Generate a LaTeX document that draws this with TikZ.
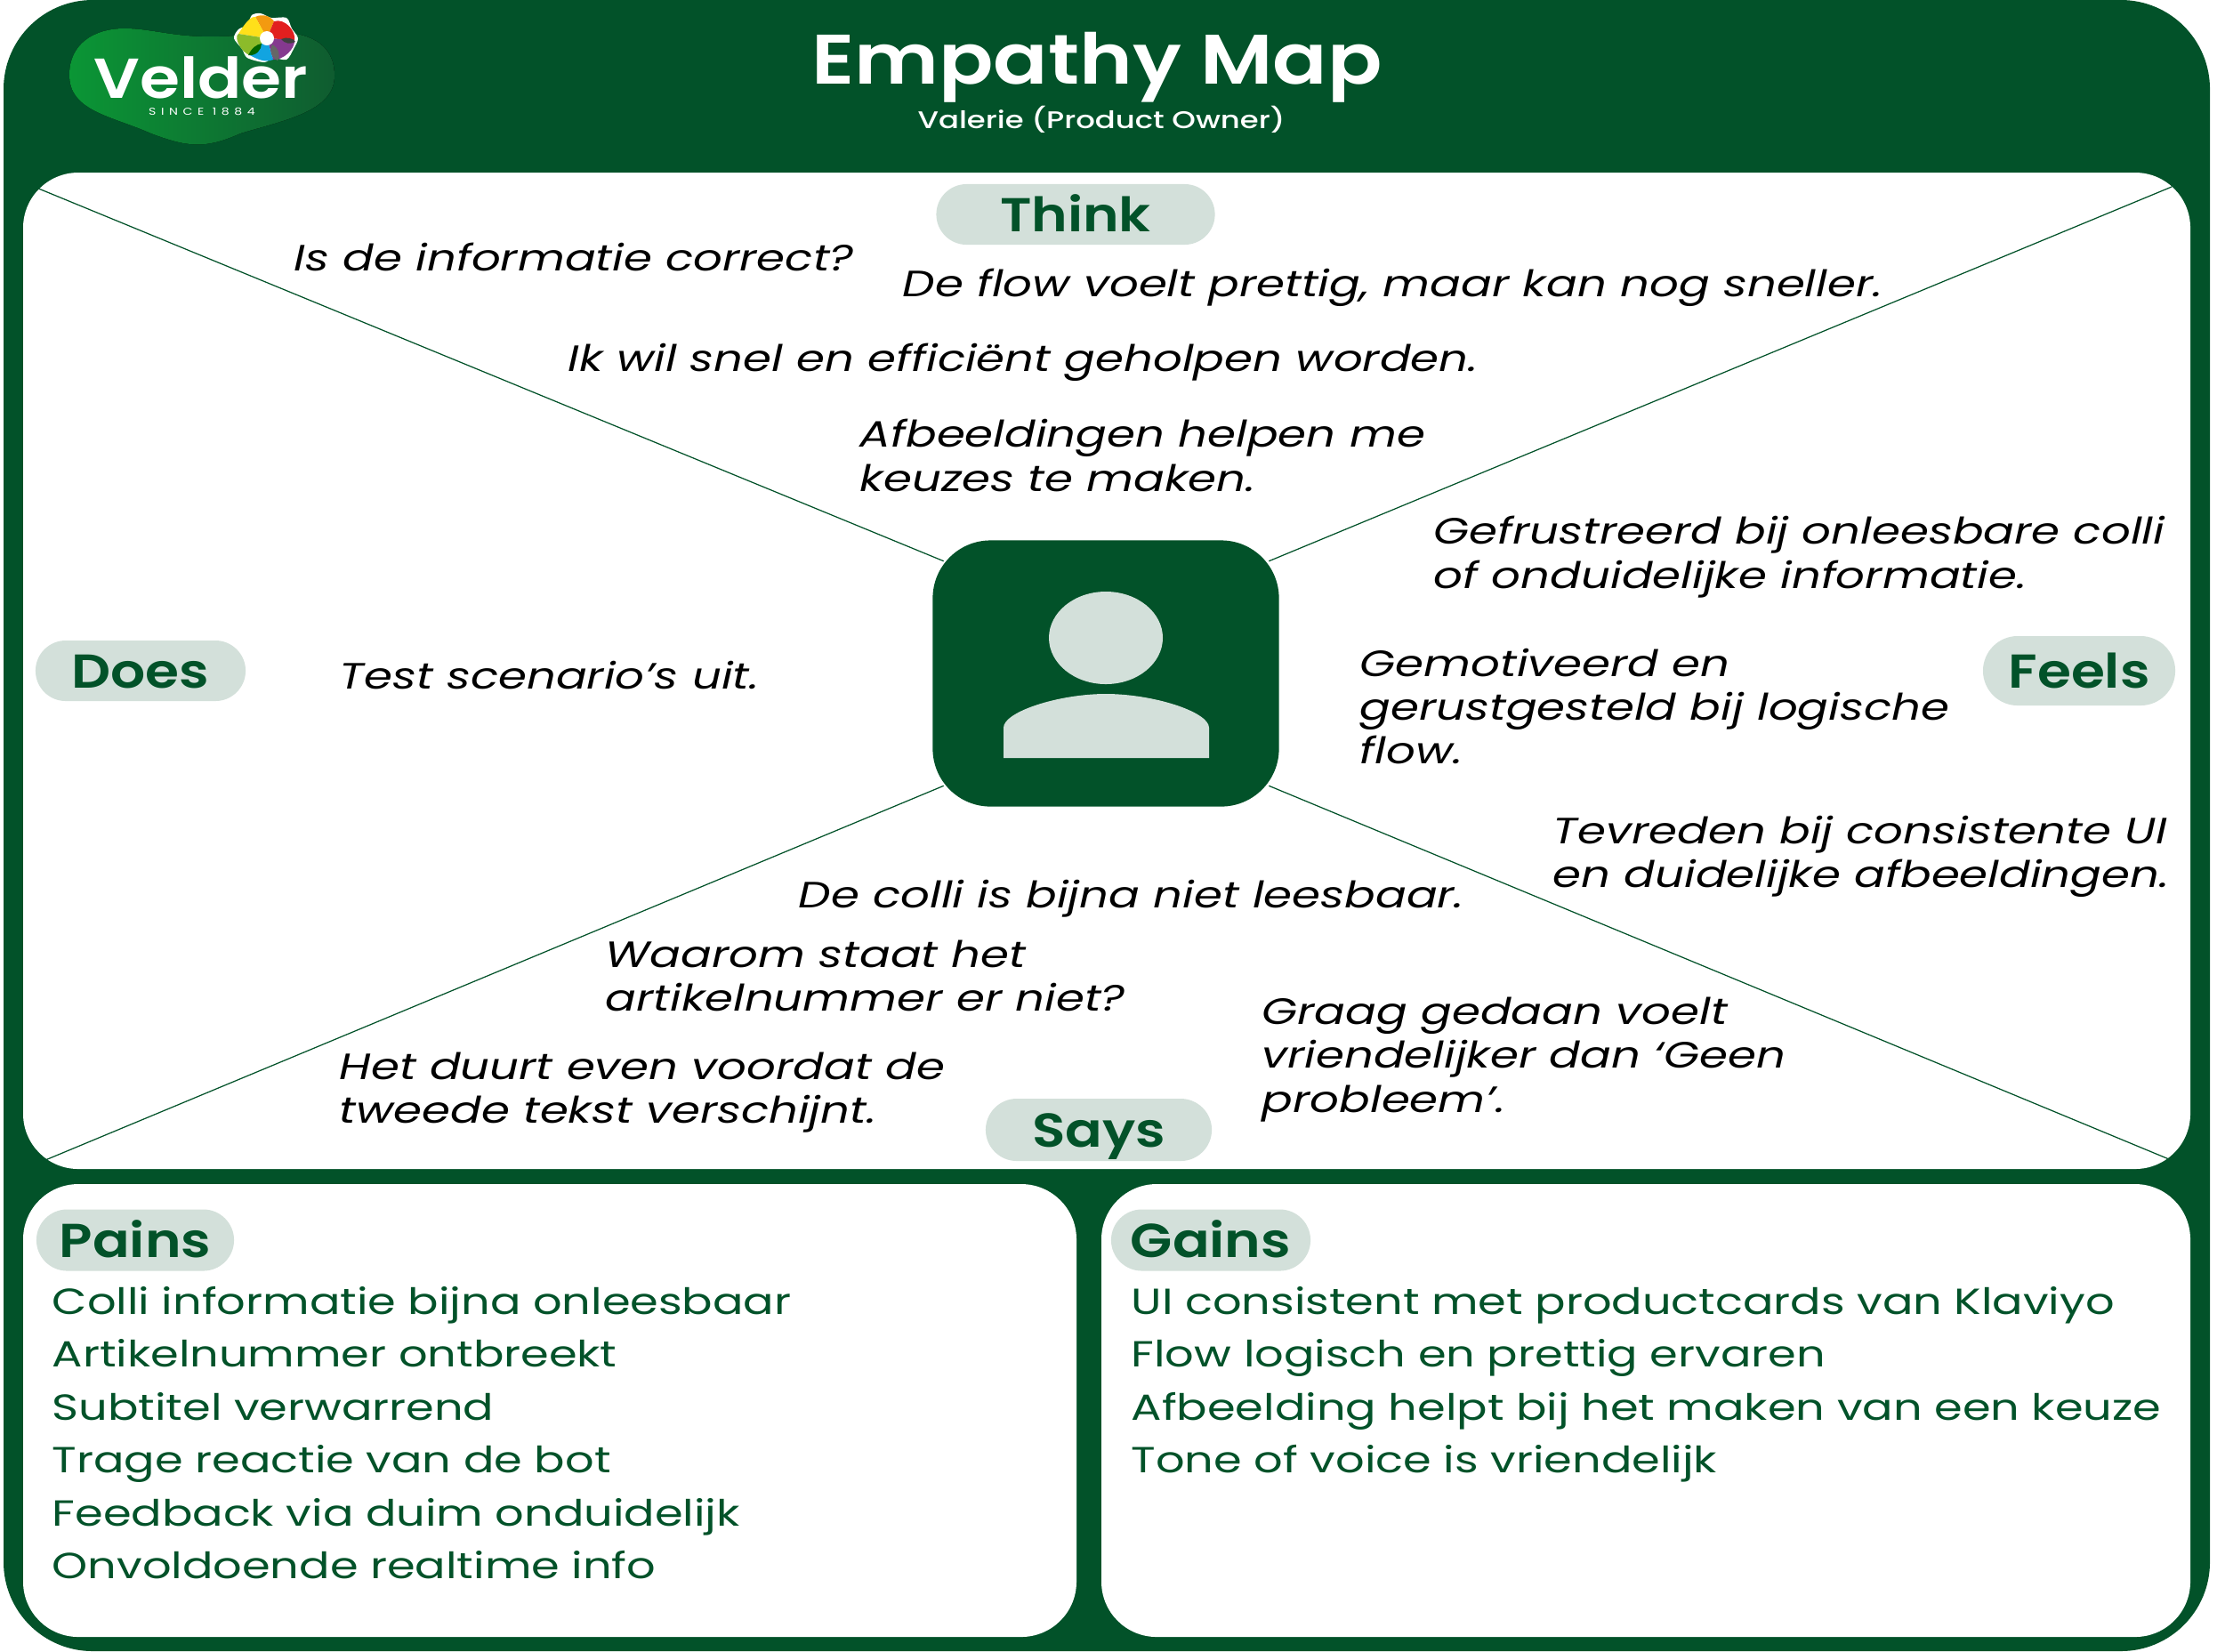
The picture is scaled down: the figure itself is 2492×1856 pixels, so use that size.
\documentclass[tikz,border=0pt]{standalone}
\usepackage{fontspec}
\setmainfont[FakeStretch=1.25]{Poppins}
\newfontfamily\headfont[FakeStretch=1.15]{Poppins SemiBold}
\newfontfamily\subfont[FakeStretch=1.25]{Poppins Medium}
\usepackage{xcolor}
\usetikzlibrary{calc,positioning,shapes.misc}
\definecolor{mainc}{HTML}{025229}
\definecolor{softc}{HTML}{D3E0DA}
\definecolor{blobl}{HTML}{0B9635}
\definecolor{blobr}{HTML}{0F5C30}
\definecolor{pOrange}{HTML}{F39A10}
\definecolor{pYellow}{HTML}{FFE01A}
\definecolor{pRed}{HTML}{E21F1F}
\definecolor{pPurple}{HTML}{85398F}
\definecolor{pBlue}{HTML}{12A4E0}
\definecolor{pGreen}{HTML}{8CBB2A}
\tikzset{
  panel/.style={fill=white,rounded corners=0.62cm},
  pill/.style={rounded rectangle,fill=softc,text=mainc,inner sep=0pt,text height=11pt,text depth=0pt,font=\fontsize{15.2}{18}\headfont},
  saytxt/.style={anchor=west,align=left,inner sep=0pt,text=black,font=\fontsize{11.7}{14}\selectfont\itshape},
  listtxt/.style={anchor=base west,inner sep=0pt,text=mainc,font=\fontsize{11.6}{14}\selectfont},
  spoke/.style={mainc,line width=0.35pt}
}
\begin{document}
\begin{tikzpicture}[x=0.01cm,y=-0.01cm]
\useasboundingbox (0,0) rectangle (2492,1856);
\fill[mainc,rounded corners=1cm] (4,0) rectangle (2484,1856);
\fill[panel] (26,194) rectangle (2462,1314);
\fill[panel] (26,1331) rectangle (1210,1840);
\fill[panel] (1238,1331) rectangle (2462,1840);
% logo
\fill[left color=blobl,right color=blobr] (78,84) .. controls (78,50) and (105,32) .. (140,32)
  .. controls (175,32) and (200,45) .. (265,40) .. controls (320,30) and (376,35) .. (376,85)
  .. controls (376,125) and (320,135) .. (270,150) .. controls (230,168) and (210,165) .. (170,150)
  .. controls (125,130) and (78,125) .. (78,84) -- cycle;
\node[anchor=base,inner sep=0pt,text=white,font=\fontsize{18}{20}\headfont] (brand) at (226,110) {Velder};
\node[inner sep=0pt,text=white,font=\fontsize{3.2}{4}\selectfont\addfontfeature{LetterSpace=50}] (since) at (227,125) {SINCE 1884};
\fill[white] plot[smooth cycle] coordinates {(283,17)(293,15)(305,20)(322,20)(328,32)(335,43)(330,55)(322,67)(307,65)(297,70)(278,65)(272,55)(263,43)(268,33)(278,28)};
\fill[pOrange] (300,43) -- (287,19) .. controls (295,15) and (304,18) .. (308,24) -- cycle;
\fill[pYellow] (300,43) -- (268,38) .. controls (272,32) and (280,18) .. (287,19) -- cycle;
\fill[pRed] (300,43) -- (308,24) .. controls (320,20) and (333,35) .. (331,45) -- cycle;
\fill[pPurple] (300,43) -- (331,45) .. controls (332,55) and (318,68) .. (307,67) -- cycle;
\fill[pBlue] (300,43) -- (307,67) .. controls (298,71) and (288,66) .. (281,62) -- cycle;
\fill[pGreen] (300,43) -- (281,62) .. controls (272,60) and (262,42) .. (268,38) -- cycle;
\fill[black!75] (316,44) .. controls (322,41) and (330,43) .. (332,47) .. controls (326,50) and (320,49) .. (316,44) -- cycle;
\fill[black!60] (306,50) .. controls (302,58) and (306,66) .. (312,68) .. controls (316,62) and (313,54) .. (306,50) -- cycle;
\fill[green!40!black] (279,62) .. controls (283,54) and (288,50) .. (294,49) .. controls (294,56) and (288,63) .. (279,62) -- cycle;
\fill[white] (300,43) circle (8);
% title
\node[inner sep=0pt,text=white,font=\fontsize{22.4}{26}\headfont] (title) at (1233,76) {Empathy Map};
\node[inner sep=0pt,text=white,font=\fontsize{7.7}{10}\subfont] (subtitle) at (1238,134) {Valerie (Product Owner)};
% persona
\node[fill=mainc,rounded corners=0.65cm,minimum width=3.89cm,minimum height=2.99cm,inner sep=0pt] (persona) at (1243,757) {};
\fill[softc] (1243,717) ellipse (64 and 52);
\fill[softc] (1128,852) -- (1128,818) .. controls (1128,800) and (1190,780) .. (1243,780)
  .. controls (1296,780) and (1359,800) .. (1359,818) -- (1359,852) -- cycle;
% spokes
\coordinate (cTL) at (41,211); \coordinate (cTR) at (2441,210);
\coordinate (cBL) at (51,1304); \coordinate (cBR) at (2438,1303);
\draw[spoke] (cTL)--($(persona.north west)+(13,24)$);
\draw[spoke] (cTR)--($(persona.north east)+(-12,24)$);
\draw[spoke] (cBL)--($(persona.south west)+(13,-24)$);
\draw[spoke] (cBR)--($(persona.south east)+(-12,-24)$);
% labels
\node[pill,minimum width=3.13cm,minimum height=0.68cm] (think) at (1209,241) {Think};
\node[pill,minimum width=2.36cm,minimum height=0.68cm] (does) at (158,754) {Does\hspace{6pt}};
\node[pill,minimum width=2.16cm,minimum height=0.78cm] (feels) at (2337,754) {Feels};
\node[pill,minimum width=2.54cm,minimum height=0.70cm] (says) at (1235,1270) {Says};
\node[pill,minimum width=2.22cm,minimum height=0.69cm] (pains) at (152,1394) {Pains};
\node[pill,minimum width=2.24cm,minimum height=0.69cm] (gains) at (1361,1394) {Gains};
% think
\node[saytxt] (t1) at (330,289) {Is de informatie correct?};
\node[saytxt] (t2) at (1014,323) {De flow voelt prettig, maar kan nog sneller.};
\node[saytxt] (t3) at (638,407) {Ik wil snel en efficiënt geholpen worden.};
\node[saytxt] (t4) at (966,512) {Afbeeldingen helpen me\\keuzes te maken.};
% feels
\node[saytxt] (f1) at (1611,626) {Gefrustreerd bij onleesbare colli\\of onduidelijke informatie.};
\node[saytxt] (f2) at (1528,794) {Gemotiveerd en\\gerustgesteld bij logische\\flow.};
\node[saytxt] (f3) at (1745,963) {Tevreden bij consistente UI\\en duidelijke afbeeldingen.};
% does
\node[saytxt] (d1) at (381,759) {Test scenario’s uit.};
% says
\node[saytxt] (s1) at (897,1010) {De colli is bijna niet leesbaar.};
\node[saytxt] (s2) at (680,1097) {Waarom staat het\\artikelnummer er niet?};
\node[saytxt] (s3) at (381,1228) {Het duurt even voordat de\\tweede tekst verschijnt.};
\node[saytxt] (s4) at (1418,1191) {Graag gedaan voelt\\vriendelijker dan ‘Geen\\probleem’.};
% pains
\node[listtxt] (p1) at (58,1477) {Colli informatie bijna onleesbaar};
\node[listtxt] (p2) at (58,1536) {Artikelnummer ontbreekt};
\node[listtxt] (p3) at (58,1596) {Subtitel verwarrend};
\node[listtxt] (p4) at (58,1655) {Trage reactie van de bot};
\node[listtxt] (p5) at (58,1715) {Feedback via duim onduidelijk};
\node[listtxt] (p6) at (58,1774) {Onvoldoende realtime info};
% gains
\node[listtxt] (g1) at (1271,1477) {UI consistent met productcards van Klaviyo};
\node[listtxt] (g2) at (1271,1536) {Flow logisch en prettig ervaren};
\node[listtxt] (g3) at (1271,1596) {Afbeelding helpt bij het maken van een keuze};
\node[listtxt] (g4) at (1271,1655) {Tone of voice is vriendelijk};
\end{tikzpicture}
\end{document}
